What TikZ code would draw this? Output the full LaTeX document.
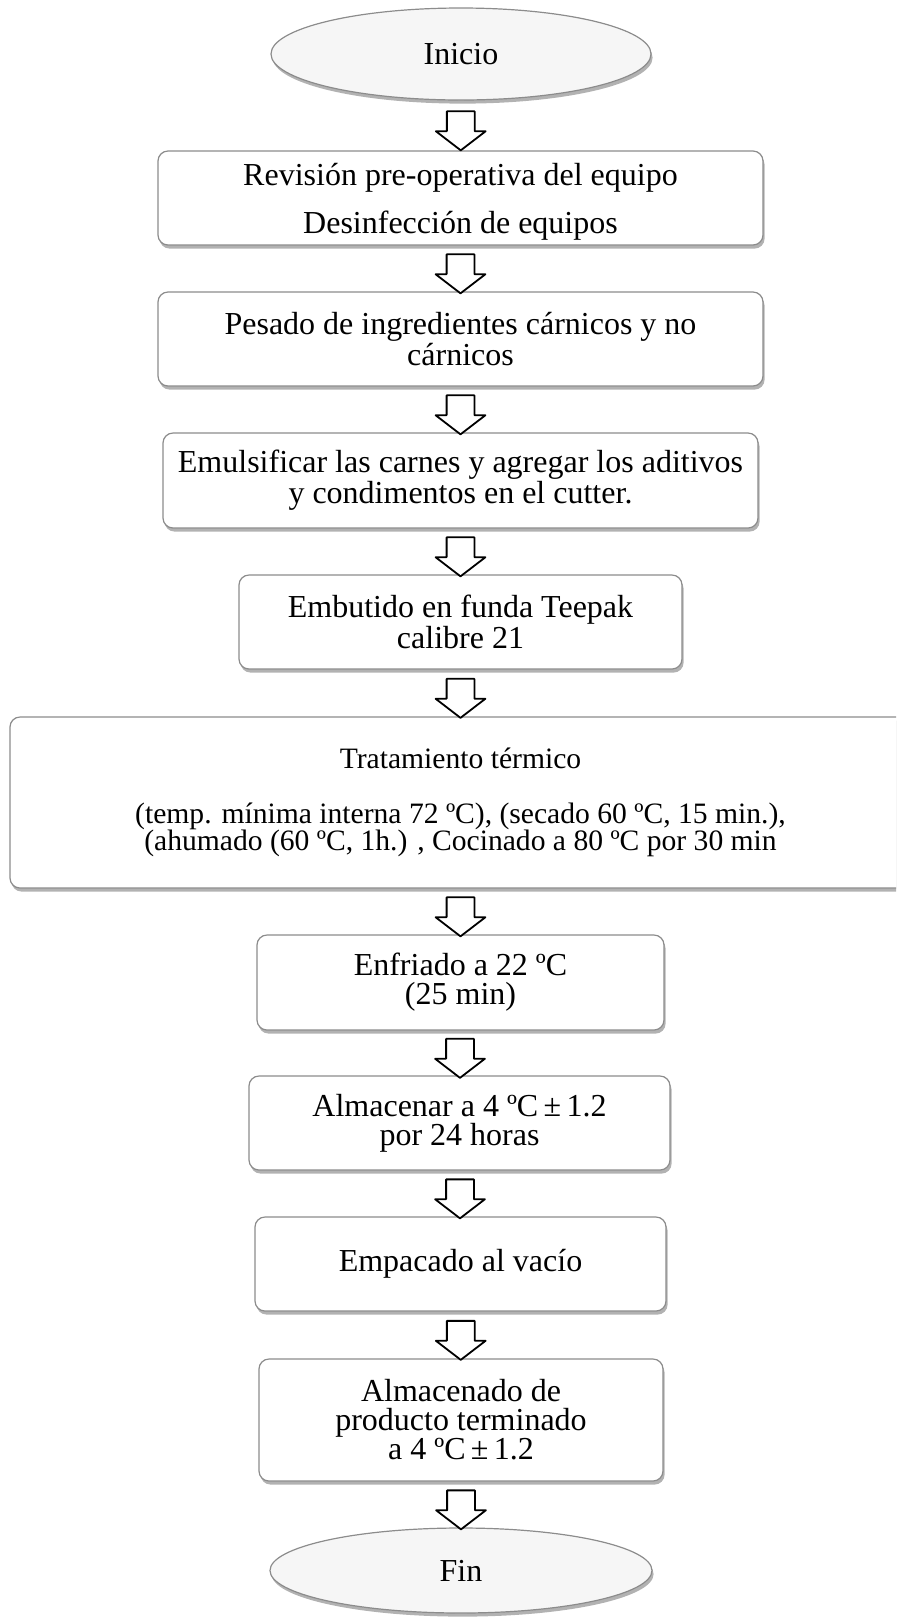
\documentclass[tikz,border=0pt]{standalone}
\usepackage{fontspec}
\setmainfont{Liberation Serif}
\usetikzlibrary{shapes.geometric,shapes.arrows,shadows,calc}
\definecolor{borde}{RGB}{140,140,140}
\tikzset{
	proc/.style={draw=borde,line width=0.6pt,fill=white,rounded corners=5pt,align=center,inner sep=2pt,
		drop shadow={shadow xshift=0.8pt,shadow yshift=-1.8pt,opacity=0.3,fill=black}},
	term/.style={ellipse,draw=borde,line width=0.6pt,fill=gray!7,inner sep=0pt,
		drop shadow={shadow xshift=0.8pt,shadow yshift=-1.8pt,opacity=0.3,fill=black}},
	flecha/.style={single arrow,draw=black,line width=0.9pt,fill=white,rotate=-90,inner xsep=0pt,inner ysep=6.5pt,
		minimum width=0pt,minimum height=19.5pt,single arrow head extend=5.5pt,single arrow tip angle=105}
}

\begin{document}
\begin{tikzpicture}[line cap=round,line join=round,x=0.5pt,y=-0.5pt,font=\fontsize{16}{14.5}\selectfont]
		\clip (0,0) rectangle (896,1624);
		% nodos
		\node[term,minimum width=190pt,minimum height=46pt] (ini) at (461,54) {Inicio};
		\node[proc,minimum width=302.5pt,minimum height=47pt] (b1) at (460.5,198) {\rule{0pt}{14.8pt}Revisión pre-operativa del equipo\\[8.5pt]Desinfección de equipos};
		\node[proc,minimum width=302.5pt,minimum height=47pt] (b2) at (460.5,339) {Pesado de ingredientes cárnicos y no\\cárnicos};
		\node[proc,minimum width=297.5pt,minimum height=47.5pt] (b3) at (460.5,480.5) {Emulsificar las carnes y agregar los aditivos\\y condimentos en el cutter.};
		\node[proc,minimum width=221.5pt,minimum height=47pt] (b4) at (460.5,622) {Embutido en funda Teepak\\calibre 21};
		\node[proc,minimum width=450.5pt,minimum height=85.5pt,font=\fontsize{14.8}{13.5}\selectfont] (b5) at (460.5,802.5) {Tratamiento térmico\\[14pt](temp. mínima interna 72 ºC), (secado 60 ºC, 15 min.),\\(ahumado (60 ºC, 1h.) , Cocinado a 80 ºC por 30 min};
		\node[proc,minimum width=203.5pt,minimum height=47.5pt] (b6) at (460.5,982.5) {Enfriado a 22 ºC\\(25 min)};
		\node[proc,minimum width=210.5pt,minimum height=47pt] (b7) at (459.5,1123) {Almacenar a 4 ºC\,±\,1.2\\por 24 horas};
		\node[proc,minimum width=205.5pt,minimum height=47pt] (b8) at (460.5,1264) {Empacado al vacío};
		\node[proc,minimum width=202pt,minimum height=61pt] (b9) at (461,1420) {Almacenado de\\producto terminado\\a 4 ºC\,±\,1.2};
		\node[term,minimum width=191pt,minimum height=42.5pt] (fin) at (461,1570.5) {Fin};
		% flechas
		\node[flecha] (f1) at ($(ini.south)!0.5!(b1.north)$) {};
		\node[flecha] (f2) at ($(b1.south)!0.5!(b2.north)$) {};
		\node[flecha] (f3) at ($(b2.south)!0.5!(b3.north)$) {};
		\node[flecha] (f4) at ($(b3.south)!0.5!(b4.north)$) {};
		\node[flecha] (f5) at ($(b4.south)!0.5!(b5.north)$) {};
		\node[flecha] (f6) at ($(b5.south)!0.5!(b6.north)$) {};
		\node[flecha] (f7) at ($(b6.south)!0.5!(b7.north)$) {};
		\node[flecha] (f8) at ($(b7.south)!0.5!(b8.north)$) {};
		\node[flecha] (f9) at ($(b8.south)!0.5!(b9.north)$) {};
		\node[flecha] (f10) at ($(b9.south)!0.5!(fin.north)$) {};
	\end{tikzpicture}
\end{document}
